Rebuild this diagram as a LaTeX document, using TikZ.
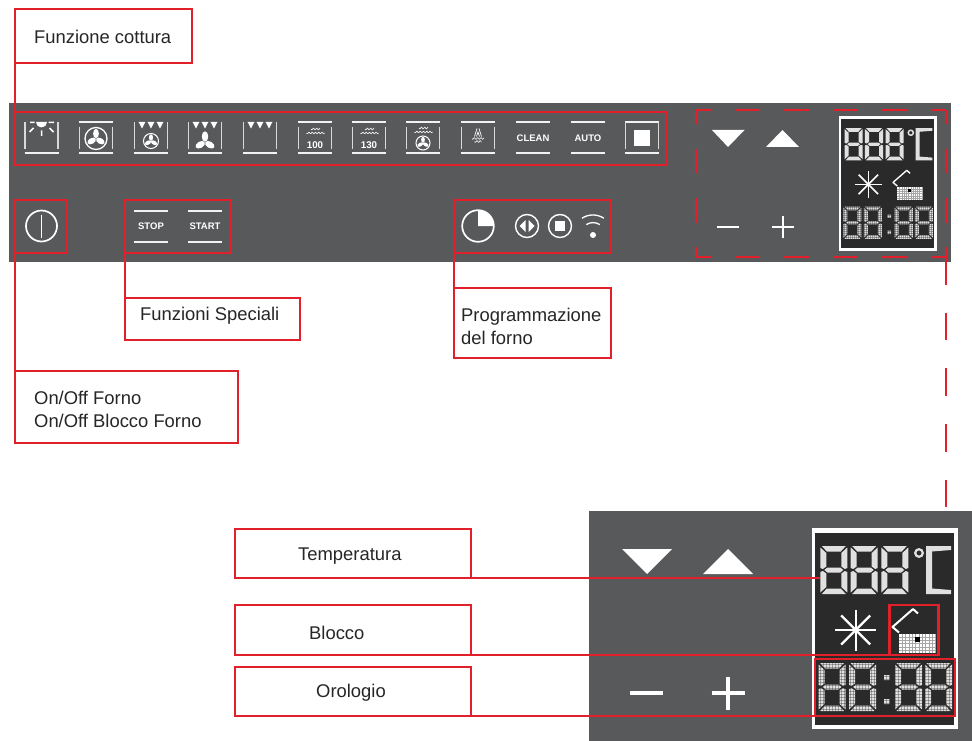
\documentclass[tikz,border=0pt]{standalone}
\usepackage{fontspec}
\setmainfont{Liberation Sans}
\definecolor{panelgray}{HTML}{57595B}
\definecolor{redline}{HTML}{E2202C}
\definecolor{lcdblack}{HTML}{2A2A2B}
\definecolor{segwhite}{HTML}{E0E0E0}
\tikzset{
  box/.style={draw=redline,line width=2.6pt,rectangle,outer sep=0pt,inner sep=0pt,anchor=north west},
  hot/.style={rectangle,outer sep=0pt,inner sep=0pt,anchor=north west},
  link/.style={draw=redline,line width=2.6pt},
  dashlink/.style={draw=redline,line width=2.6pt,dash pattern=on 24.5pt off 24.5pt},
  lbl/.style={font=\fontsize{18.4}{22.5}\selectfont,align=left,inner sep=0pt,anchor=west,text=black!85},
  btn/.style={font=\bfseries\fontsize{9.5}{10}\selectfont,text=white,inner sep=0pt},
  ico/.style={draw=white!95!black,line width=2pt},
  thin/.style={draw=white!85!black,line width=1.2pt},
}
% oven icon parts
\newcommand{\topbar}[1]{\draw[ico] (#1-17,122)--(#1+17,122);}
\newcommand{\botbar}[1]{\draw[ico] (#1-17,153.5)--(#1+17,153.5);}
\newcommand{\sideslong}[1]{\draw[thin] (#1-16.5,122)--(#1-16.5,149) (#1+16.5,122)--(#1+16.5,149);}
\newcommand{\sidesshort}[1]{\draw[thin] (#1-16.5,127)--(#1-16.5,149) (#1+16.5,127)--(#1+16.5,149);}
\newcommand{\heat}[1]{\foreach \o in {-9,0,9}{\fill[white] (#1+\o-3.4,122)--(#1+\o+3.4,122)--(#1+\o,128.5)--cycle;}}
\newcommand{\blades}[3]{\foreach \a in {90,210,330}{\fill[white,shift={(#1,#2)},rotate=\a] (0.55*#3,0) ellipse [x radius=0.52*#3,y radius=0.32*#3];}}
\newcommand{\wavy}[3]{\draw[white,line width=.6pt] plot[domain=0:#3,samples=30] ({#1+\x},{#2+.8*sin(\x*110)});}
\newcommand{\gridlines}[6]{%
  \pgfmathtruncatemacro{\gnx}{(#3-#1)/#5}\pgfmathtruncatemacro{\gny}{(#4-#2)/#5}
  \foreach \i in {1,...,\gnx}{\draw[#6] ({#1+\i*#5},#2)--({#1+\i*#5},#4);}
  \foreach \i in {1,...,\gny}{\draw[#6] (#1,{#2+\i*#5})--(#3,{#2+\i*#5});}}
% LCD
\newcommand{\lcdigit}[2]{%
  \begin{scope}[shift={(#1,#2)}]
   \fill[segwhite] (1.5,0)--(25.5,0)--(20.5,5.5)--(6.5,5.5)--cycle;
   \fill[segwhite] (1.5,48)--(25.5,48)--(20.5,42.5)--(6.5,42.5)--cycle;
   \fill[segwhite] (7,21.5)--(20,21.5)--(23,24)--(20,26.5)--(7,26.5)--(4,24)--cycle;
   \fill[segwhite] (0,1.5)--(6,7)--(6,20.5)--(2.5,23)--(0,22)--cycle;
   \fill[segwhite] (27,1.5)--(21,7)--(21,20.5)--(24.5,23)--(27,22)--cycle;
   \fill[segwhite] (0,46.5)--(6,41)--(6,27.5)--(2.5,25)--(0,26)--cycle;
   \fill[segwhite] (27,46.5)--(21,41)--(21,27.5)--(24.5,25)--(27,26)--cycle;
  \end{scope}}
\newcommand{\lcd}[3]{%
  \begin{scope}[shift={(#1,#2)},scale=#3]
   \fill[white] (0,0) rectangle (146,201);
   \fill[lcdblack] (3,5) rectangle (142,197);
   \lcdigit{8.3}{18}\lcdigit{38.7}{18}\lcdigit{69.3}{18}
   \draw[segwhite,line width=2.2*#3 pt] (107,25) circle [radius=3.8];
   \fill[segwhite] (114,18)--(139,18)--(139,22)--(120,23.5)--(120,60.5)--(139,62)--(139,66)--(114,66)--cycle;
   \lcdigit{6.5}{135}\lcdigit{37}{135}\lcdigit{83}{135}\lcdigit{113}{135}
   \fill[segwhite] (72,147) rectangle (77.5,152) (72,171) rectangle (77.5,176);
   \gridlines{5}{133}{140}{185}{3}{draw=lcdblack,line width=.35*#3 pt,opacity=.35}
   \foreach \a in {0,45,...,315}{\draw[white,line width=2.4*#3 pt] (43.7,102)--++(\a:20.5);}
   \draw[white,line width=2*#3 pt,line join=round] (106,85.5)--(101,81)--(80.5,99)--(87,104.5);
   \fill[white] (87,105.5) rectangle (124,125);
   \gridlines{87}{105.5}{124}{125}{3.3}{draw=black!35,line width=.4*#3 pt}
   \fill[black] (103,109) rectangle (107.5,113.5);
  \end{scope}}
\begin{document}
\begin{tikzpicture}[x=1pt,y=-1pt]
\useasboundingbox (0,0) rectangle (972,741);
\fill[white] (0,0) rectangle (972,741);
% panels
\fill[panelgray] (9,103) rectangle (951,262);
\fill[panelgray] (589,511) rectangle (972,741);
% oven icons
% 1 sun
\botbar{41.5}\sideslong{41.5}
\fill[white] (36,122) arc [start angle=180,end angle=0,radius=5.5] --cycle;
\draw[thin,draw=white,line width=1.5pt] (30,122.5)--(34.5,122.5) (48.5,122.5)--(54,122.5) (41.5,130.5)--(41.5,136) (33.5,128)--(29.5,132) (49.5,128)--(53.5,132);
% 2 fan
\topbar{96}\botbar{96}\sidesshort{96}
\draw[white,line width=1.3pt] (96,138.5) circle [radius=11];
\blades{96}{138.5}{9}
% 3
\botbar{151}\sideslong{151}\heat{151}
\draw[white,line width=1pt] (151,141) circle [radius=7.5];
\blades{151}{141}{6.3}
% 4
\botbar{205}\sideslong{205}\heat{205}
\blades{205}{142}{10}
% 5
\botbar{260}\sideslong{260}\heat{260}
% 6
\topbar{315}\botbar{315}\sidesshort{315}
\wavy{311}{129}{9}\wavy{306.5}{133}{18}
\node[btn,font=\bfseries\fontsize{9.8}{10}\selectfont] (t100) at (315,145) {100};
% 7
\topbar{369}\botbar{369}\sidesshort{369}
\wavy{365}{129}{9}\wavy{360.5}{133}{18}
\node[btn,font=\bfseries\fontsize{9.8}{10}\selectfont] (t130) at (369,145) {130};
% 8
\topbar{423}\botbar{423}\sidesshort{423}
\wavy{419}{128}{9}\wavy{414.5}{132}{18}
\draw[white,line width=1pt] (423,143) circle [radius=7];
\blades{423}{143}{5.8}
% 9
\topbar{478}\botbar{478}\sidesshort{478}
\draw[white,line width=.7pt] (474.5,136.5)--(477,128.5) (481.5,136.5)--(479,128.5) (476.5,136.5)--(478,132)--(479.5,136.5);
\wavy{472}{138.5}{12}\wavy{474.5}{141.5}{7}
% clean / auto
\topbar{533}\botbar{533}
\node[btn] (tclean) at (533,138.5) {CLEAN};
\topbar{588}\botbar{588}
\node[btn] (tauto) at (588,138.5) {AUTO};
% square
\topbar{642}\botbar{642}\sideslong{642}
\fill[white] (634,130) rectangle (650,146);
% power
\draw[white,line width=1.7pt] (41.5,226) circle [radius=15.5];
\draw[white,line width=1.9pt] (41.5,214.5)--(41.5,237.5);
% stop/start
\draw[ico] (134,211)--(168,211) (134,241.5)--(168,241.5) (188,211)--(222,211) (188,241.5)--(222,241.5);
\node[btn] (tstop) at (151,226.5) {STOP};
\node[btn] (tstart) at (205,226.5) {START};
% programme
\draw[white,line width=1.7pt] (478,226) circle [radius=15.8];
\fill[white] (478,226)--(478,210) arc [start angle=270,end angle=360,radius=16] --cycle;
\draw[white,line width=1.4pt] (527,226) circle [radius=11.5];
\fill[white] (525.5,220)--(525.5,232)--(519.5,226)--cycle (528.5,220)--(528.5,232)--(534.5,226)--cycle;
\draw[white,line width=1.4pt] (560,226) circle [radius=11.5];
\fill[white] (555,221) rectangle (565,231);
\fill[white] (593,235) circle [radius=3];
\draw[white,line width=1.3pt] (586.3,224.6) arc [start angle=237,end angle=303,radius=12.4];
\draw[white,line width=1.3pt] (582,218.2) arc [start angle=237,end angle=303,radius=20];
% right controls, top panel
\fill[white] (712,130)--(744.5,130)--(728,147)--cycle;
\fill[white] (766,147)--(799,147)--(782.5,130)--cycle;
\draw[white,line width=2.6pt] (717,227)--(739,227) (772,227)--(794,227) (783,216)--(783,238);
\lcd{839}{116}{.671}
% lower panel
\fill[white] (622,549)--(672,549)--(647,574)--cycle;
\fill[white] (703,574)--(753,574)--(728,549)--cycle;
\draw[white,line width=4.4pt] (630,693)--(663,693) (711.5,693)--(744.5,693) (728,676.5)--(728,709.5);
\lcd{812}{528}{1}
% red boxes
\node[box,minimum width=651pt,minimum height=53pt] (cottura) at (15,112) {};
\node[box,minimum width=52pt,minimum height=53pt] (onoff) at (15,200) {};
\node[box,minimum width=106pt,minimum height=53pt] (special) at (125,200) {};
\node[box,minimum width=157pt,minimum height=53pt] (prog) at (454,200) {};
\node[hot,minimum width=250pt,minimum height=147pt] (dbox) at (696,110) {};
\draw[dashlink,dash phase=10pt] (dbox.north west)--(dbox.north east);
\draw[dashlink,dash phase=10pt] (dbox.north west)--(dbox.south west);
\draw[dashlink,dash phase=10pt] (dbox.south west)--(dbox.south east);
\draw[dashlink,dash phase=10pt] (dbox.north east)--(dbox.south east);
\node[box,minimum width=49pt,minimum height=50pt] (lock) at (889.5,605) {};
\node[box,minimum width=140pt,minimum height=57pt] (clock) at (815,659) {};
\coordinate (tempend) at (820,578);
\coordinate (lowpanel) at (946,508);
% label boxes
\node[box,minimum width=177pt,minimum height=54pt] (lcott) at (15,9) {};
\node[lbl] (lcotttxt) at (34,37) {Funzione cottura};
\node[box,minimum width=223pt,minimum height=72pt] (lon) at (15,371) {};
\node[lbl] (lontxt) at (34,409.5) {On/Off Forno\\On/Off Blocco Forno};
\node[box,minimum width=175pt,minimum height=42pt] (lspec) at (125,298) {};
\node[lbl] (lspectxt) at (140,315.5) {Funzioni Speciali};
\node[box,minimum width=157pt,minimum height=70pt] (lprog) at (454,288) {};
\node[lbl] (lprogtxt) at (461,326.5) {Programmazione\\del forno};
\node[box,minimum width=236pt,minimum height=49pt] (ltemp) at (235,529) {};
\node[lbl] (ltemptxt) at (298,556) {Temperatura};
\node[box,minimum width=236pt,minimum height=50pt] (lblocco) at (235,605) {};
\node[lbl] (lbloccotxt) at (309,633) {Blocco};
\node[box,minimum width=236pt,minimum height=49pt] (lorol) at (235,667) {};
\node[lbl] (loroltxt) at (316,692.5) {Orologio};
% connectors
\draw[link] (lcott.south west)--(cottura.north west);
\draw[link] (onoff.south west)--(lon.north west);
\draw[link] (special.south west)--(lspec.north west);
\draw[link] (prog.south west)--(lprog.north west);
\draw[dashlink,dash pattern=on 27.5pt off 28.2pt] (dbox.south east)--(lowpanel);
\draw[link] (ltemp.south east)--(tempend);
\draw[link] (lblocco.south east)--(lock.south west);
\draw[link] (lorol.south east)--(clock.south west);
\end{tikzpicture}
\end{document}
